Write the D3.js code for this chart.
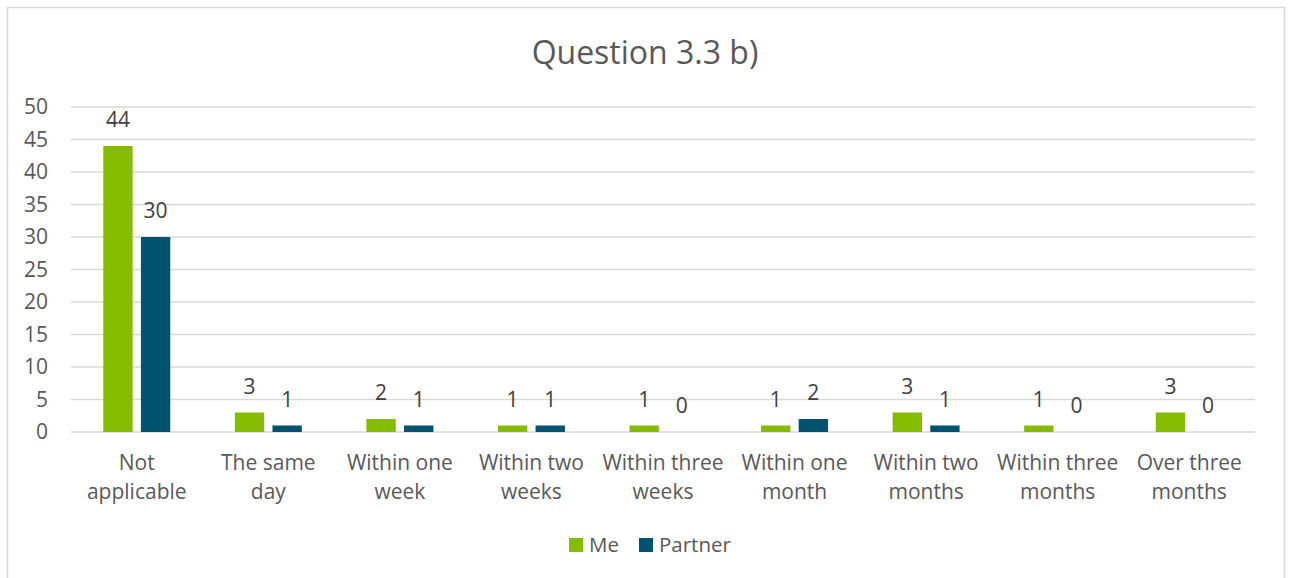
<!DOCTYPE html>
<html>
<head>
<meta charset="utf-8">
<script src="https://cdn.jsdelivr.net/npm/d3@7"></script>
<style>
  html, body { margin: 0; padding: 0; background: #fff; }
  svg { display: block; font-family: "Open Sans", "Noto Sans", sans-serif; }
</style>
</head>
<body>
<svg id="chart" width="1292" height="578"></svg>
<script>
// Chart data
const title = "Question 3.3 b)";
const categories = [
  ["Not", "applicable"],
  ["The same", "day"],
  ["Within one", "week"],
  ["Within two", "weeks"],
  ["Within three", "weeks"],
  ["Within one", "month"],
  ["Within two", "months"],
  ["Within three", "months"],
  ["Over three", "months"]
];
const seriesNames = ["Me", "Partner"];
const meValues = [44, 3, 2, 1, 1, 1, 3, 1, 3];
const partnerValues = [30, 1, 1, 1, 0, 2, 1, 0, 0];
const yTicks = [0, 5, 10, 15, 20, 25, 30, 35, 40, 45, 50];
const colors = ["#86bc00", "#00536f"];

const svg = d3.select("#chart");
const textColor = "#595959";
const gridColor = "#d9d9d9";

// Outer chart frame
svg.append("rect")
  .attr("x", 7.5).attr("y", 7.5)
  .attr("width", 1277).attr("height", 600)
  .attr("fill", "#fff")
  .attr("stroke", gridColor).attr("stroke-width", 1.5);

// Title
svg.append("text")
  .attr("x", 645).attr("y", 64)
  .attr("text-anchor", "middle")
  .attr("fill", textColor)
  .attr("font-size", 32)
  .text(title);

const plotLeft = 71, plotRight = 1255, plotTop = 107, plotBottom = 432;
const keys = categories.map(c => c.join(" "));

const x0 = d3.scaleBand().domain(keys).range([plotLeft, plotRight]).padding(0);
const groupW = x0.bandwidth() * 0.509;
const x1 = d3.scaleBand().domain(seriesNames)
  .range([(x0.bandwidth() - groupW) / 2, (x0.bandwidth() + groupW) / 2])
  .paddingInner(0.22).paddingOuter(0);
const y = d3.scaleLinear().domain([0, 50]).range([plotBottom, plotTop]);

// Gridlines
svg.append("g").selectAll("line").data(yTicks).join("line")
  .attr("x1", plotLeft).attr("x2", plotRight)
  .attr("y1", d => y(d)).attr("y2", d => y(d))
  .attr("stroke", gridColor).attr("stroke-width", 1.3);

// Y axis labels
const yAxis = d3.axisLeft(y).tickValues(yTicks).tickSize(0).tickPadding(0);
const yg = svg.append("g").attr("transform", `translate(${48},0)`).call(yAxis);
yg.select(".domain").remove();
yg.selectAll("text")
  .attr("fill", textColor)
  .attr("font-size", 21)
  .attr("font-family", "\"Open Sans\", \"Noto Sans\", sans-serif");

// Bars and value labels
const rows = keys.map((k, i) => ({ key: k, values: [meValues[i], partnerValues[i]] }));
const groups = svg.append("g").selectAll("g").data(rows).join("g")
  .attr("transform", d => `translate(${x0(d.key)},0)`);

groups.selectAll("rect")
  .data(d => d.values.map((v, j) => ({ name: seriesNames[j], v, j })))
  .join("rect")
  .attr("x", d => x1(d.name))
  .attr("width", x1.bandwidth())
  .attr("y", d => y(d.v))
  .attr("height", d => y(0) - y(d.v))
  .attr("fill", d => colors[d.j]);

groups.selectAll("text")
  .data(d => d.values.map((v, j) => ({ name: seriesNames[j], v, j })))
  .join("text")
  .attr("x", d => x1(d.name) + x1.bandwidth() / 2)
  .attr("y", d => y(d.v) - 19)
  .attr("text-anchor", "middle")
  .attr("fill", "#404040")
  .attr("font-size", 21)
  .text(d => d.v);

// Category labels (two lines each)
const xl = svg.append("g").selectAll("text").data(categories).join("text")
  .attr("text-anchor", "middle")
  .attr("fill", textColor)
  .attr("font-size", 21);
xl.each(function (d, i) {
  const cx = x0(keys[i]) + x0.bandwidth() / 2;
  d3.select(this).selectAll("tspan").data(d).join("tspan")
    .attr("x", cx)
    .attr("y", (t, k) => 470 + k * 29)
    .text(t => t);
});

// Legend
const legendItems = [
  { name: seriesNames[0], color: colors[0], sx: 569, tx: 589 },
  { name: seriesNames[1], color: colors[1], sx: 639, tx: 659 }
];
const lg = svg.append("g").selectAll("g").data(legendItems).join("g");
lg.append("rect")
  .attr("x", d => d.sx).attr("y", 538)
  .attr("width", 14).attr("height", 14)
  .attr("fill", d => d.color);
lg.append("text")
  .attr("x", d => d.tx).attr("y", 552)
  .attr("fill", textColor)
  .attr("font-size", 20.5)
  .text(d => d.name);
</script>
</body>
</html>
